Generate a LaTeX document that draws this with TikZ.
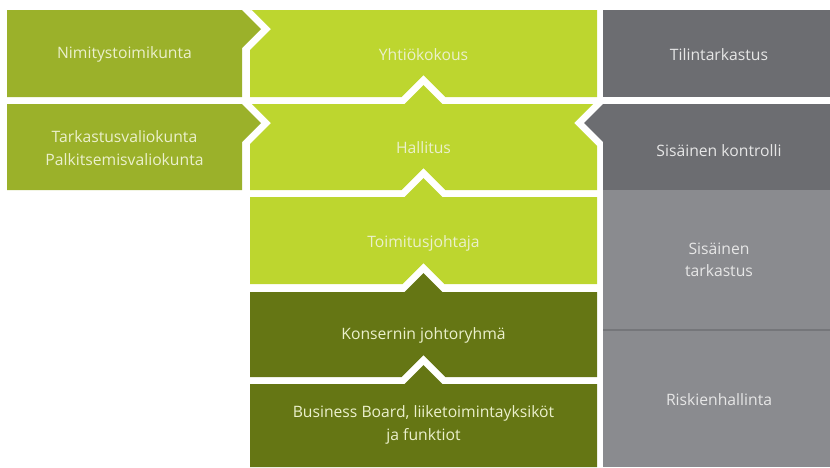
\documentclass[tikz,border=0pt]{standalone}
\usepackage{fontspec}
\setmainfont{Open Sans}
\definecolor{oliva}{HTML}{9BB12A}
\definecolor{lime}{HTML}{BDD62F}
\definecolor{scuro}{HTML}{657614}
\definecolor{grigioS}{HTML}{6C6D71}
\definecolor{grigioC}{HTML}{8A8B8F}
\definecolor{linea}{HTML}{75767A}
\definecolor{testoV}{HTML}{EBF0CC}
\definecolor{testoG}{HTML}{E6E6E6}
\begin{document}
\begin{tikzpicture}[x=1pt, y=-1pt,
    lbl/.style={text=testoV, align=center, font=\fontsize{15.7}{22.5}\selectfont},
    lblg/.style={lbl, text=testoG}]
        % Area della figura (830 x 467)
        \useasboundingbox (0,0) rectangle (830,467);

        % Colonna centrale, righe verdi chiare (con frecce e incavi)
        \fill[lime] (250,10) -- (597,10) -- (597,97) -- (445.5,97) -- (423.5,75) -- (401.5,97)
            -- (250,97) -- (250,50) -- (271,29) -- (252,10) -- cycle;
        \fill[lime] (252,104) -- (404.5,104) -- (423.5,85) -- (442.5,104) -- (593,104) -- (574,123)
            -- (597,146) -- (597,190) -- (445.5,190) -- (423.5,168) -- (401.5,190) -- (250,190)
            -- (250,144) -- (271,123) -- cycle;
        \fill[lime] (250,197) -- (404.5,197) -- (423.5,178) -- (442.5,197) -- (597,197) -- (597,284)
            -- (444.5,284) -- (423.5,263) -- (402.5,284) -- (250,284) -- cycle;

        % Colonna centrale, righe verde scuro
        \fill[scuro] (250,292) -- (404.5,292) -- (423.5,273) -- (442.5,292) -- (597,292) -- (597,377)
            -- (445.5,377) -- (423.5,355) -- (401.5,377) -- (250,377) -- cycle;
        \fill[scuro] (250,384) -- (404.5,384) -- (423.5,365) -- (442.5,384) -- (597,384) -- (597,467)
            -- (250,467) -- cycle;

        % Colonna sinistra, frecce verso destra
        \fill[oliva] (7,10) -- (242,10) -- (261,29) -- (242,48) -- (242,97) -- (7,97) -- cycle;
        \fill[oliva] (7,104) -- (242,104) -- (261,123) -- (242,142) -- (242,190) -- (7,190) -- cycle;

        % Colonna destra, grigi
        \fill[grigioS] (603,10) rectangle (830,97);
        \fill[grigioS] (603,104) -- (830,104) -- (830,190) -- (603,190) -- (603,142) -- (584,123) -- cycle;
        \fill[grigioC] (603,190) rectangle (830,467);
        \draw[linea, line width=1.2pt] (603,330) -- (830,330);

        % Etichette
        \node[lbl] (nimi) at (124.5,54.5) {Nimitystoimikunta};
        \node[lbl] (valio) at (124.5,148) {Tarkastusvaliokunta\\Palkitsemisvaliokunta};
        \node[lbl] (yhtio) at (423.5,54.5) {Yhtiökokous};
        \node[lbl] (hall) at (423.5,148) {Hallitus};
        \node[lbl] (toim) at (423.5,243) {Toimitusjohtaja};
        \node[lbl] (kons) at (423.5,335.5) {Konsernin johtoryhmä};
        \node[lbl] (bb) at (423.5,425) {Business Board, liiketoimintayksiköt\\ja funktiot};
        \node[lblg] (tilin) at (719,54.5) {Tilintarkastus};
        \node[lblg] (kontr) at (719,151) {Sisäinen kontrolli};
        \node[lblg] (tark) at (719,260) {Sisäinen\\tarkastus};
        \node[lblg] (riski) at (719,400) {Riskienhallinta};
\end{tikzpicture}
\end{document}
